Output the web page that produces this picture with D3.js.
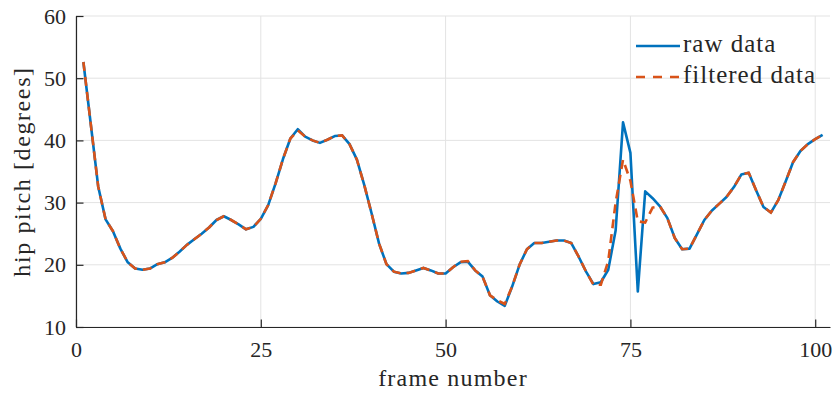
<!DOCTYPE html>
<html>
<head>
<meta charset="utf-8">
<script src="https://cdn.jsdelivr.net/npm/d3@7"></script>
<style>
  body { margin: 0; background: #fff; }
  text { font-family: "Liberation Serif", "DejaVu Serif", serif; fill: #262626; }
</style>
</head>
<body>
<div id="chart"></div>
<script>
var rawData = [52.6, 42.6, 32.6, 27.3, 25.4, 22.6, 20.4, 19.4, 19.2, 19.4,
  20.1, 20.4, 21.1, 22.1, 23.2, 24.1, 25.0, 26.0, 27.2, 27.8,
  27.2, 26.5, 25.7, 26.1, 27.4, 29.6, 33.1, 37.0, 40.3, 41.8,
  40.6, 40.0, 39.6, 40.1, 40.7, 40.8, 39.4, 36.9, 32.8, 28.2,
  23.4, 20.1, 18.9, 18.6, 18.7, 19.1, 19.5, 19.1, 18.6, 18.6,
  19.6, 20.4, 20.5, 19.1, 18.1, 15.1, 14.1, 13.4, 16.5, 20.0,
  22.5, 23.5, 23.5, 23.7, 23.9, 23.9, 23.5, 21.3, 18.9, 16.9,
  17.2, 19.2, 25.5, 42.9, 38.0, 15.7, 31.8, 30.7, 29.4, 27.5,
  24.3, 22.5, 22.6, 24.9, 27.2, 28.7, 29.8, 30.9, 32.5, 34.5,
  34.8, 32.0, 29.3, 28.4, 30.4, 33.4, 36.5, 38.3, 39.4, 40.2,
  40.9];
var filteredData = [52.6, 42.6, 32.6, 27.3, 25.4, 22.6, 20.4, 19.4, 19.2, 19.4,
  20.1, 20.4, 21.1, 22.1, 23.2, 24.1, 25.0, 26.0, 27.2, 27.8,
  27.2, 26.5, 25.7, 26.1, 27.4, 29.6, 33.1, 37.0, 40.3, 41.6,
  40.6, 40.0, 39.6, 40.1, 40.7, 40.8, 39.4, 36.9, 32.8, 28.2,
  23.4, 20.1, 18.9, 18.6, 18.7, 19.1, 19.5, 19.1, 18.6, 18.6,
  19.6, 20.5, 20.6, 19.1, 18.1, 15.1, 14.3, 13.7, 16.5, 20.0,
  22.5, 23.5, 23.5, 23.7, 23.9, 23.9, 23.5, 21.3, 18.9, 16.8,
  16.8, 20.6, 30.0, 36.9, 33.5, 27.0, 26.8, 29.2, 29.4, 27.5,
  24.3, 22.5, 22.6, 24.9, 27.2, 28.7, 29.8, 30.9, 32.5, 34.5,
  34.8, 32.0, 29.3, 28.4, 30.4, 33.4, 36.5, 38.3, 39.4, 40.2,
  40.9];
var xTicks = [0, 25, 50, 75, 100];
var yTicks = [10, 20, 30, 40, 50, 60];
var seriesNames = ['raw data', 'filtered data'];

var width = 835, height = 394;
var margin = {top: 16, right: 5, bottom: 67, left: 76};
var axisColor = '#262626', gridColor = '#e3e3e3';
var colors = ['#0072BD', '#D95319'];

var svg = d3.select('#chart').append('svg').attr('width', width).attr('height', height);
var x = d3.scaleLinear().domain([0, 102]).range([margin.left, width - margin.right]);
var y = d3.scaleLinear().domain([10, 60]).range([height - margin.bottom, margin.top]);

// grid
svg.append('g').selectAll('line').data(xTicks).enter().append('line')
  .attr('x1', function(d) { return x(d); }).attr('x2', function(d) { return x(d); })
  .attr('y1', y(10)).attr('y2', y(60)).attr('stroke', gridColor).attr('stroke-width', 1);
svg.append('g').selectAll('line').data(yTicks).enter().append('line')
  .attr('x1', x(0)).attr('x2', x(102))
  .attr('y1', function(d) { return y(d); }).attr('y2', function(d) { return y(d); })
  .attr('stroke', gridColor).attr('stroke-width', 1);

// axes
var xAxis = svg.append('g').attr('transform', 'translate(0,' + y(10) + ')')
  .call(d3.axisBottom(x).tickValues(xTicks).tickSizeInner(-7.5).tickSizeOuter(0).tickPadding(14));
var yAxis = svg.append('g').attr('transform', 'translate(' + x(0) + ',0)')
  .call(d3.axisLeft(y).tickValues(yTicks).tickSizeInner(-7.5).tickSizeOuter(0).tickPadding(10));
[xAxis, yAxis].forEach(function(a) {
  a.select('.domain').attr('stroke', axisColor).attr('stroke-width', 1.2);
  a.selectAll('.tick line').attr('stroke', axisColor).attr('stroke-width', 1.2);
  a.selectAll('.tick text').attr('font-size', 22).attr('font-family', '"Liberation Serif", serif').attr('fill', axisColor);
});

// lines
var line = d3.line().x(function(d, i) { return x(i + 1); }).y(function(d) { return y(d); });
svg.append('path').datum(rawData).attr('d', line).attr('fill', 'none')
  .attr('stroke', colors[0]).attr('stroke-width', 2.6).attr('stroke-linejoin', 'round');
svg.append('path').datum(filteredData).attr('d', line).attr('fill', 'none')
  .attr('stroke', colors[1]).attr('stroke-width', 2.6).attr('stroke-dasharray', '9,6');

// labels
svg.append('text').attr('x', (x(0) + x(102)) / 2).attr('y', 386).attr('text-anchor', 'middle')
  .attr('font-size', 24).attr('letter-spacing', 1.2).text('frame number');
svg.append('text').attr('transform', 'translate(30,' + (y(10) + y(60)) / 2 + ') rotate(-90)')
  .attr('text-anchor', 'middle').attr('font-size', 24).attr('letter-spacing', 1.6).text('hip pitch [degrees]');

// legend
var legend = svg.append('g').attr('transform', 'translate(636,46)');
seriesNames.forEach(function(name, i) {
  var row = legend.append('g').attr('transform', 'translate(0,' + (i * 31) + ')');
  row.append('line').attr('x1', 0).attr('x2', 44).attr('y1', 0).attr('y2', 0)
    .attr('stroke', colors[i]).attr('stroke-width', 2.6)
    .attr('stroke-dasharray', i == 1 ? '9,8' : null);
  row.append('text').attr('x', 47).attr('y', 6).attr('font-size', 25).attr('letter-spacing', 1)
    .text(name);
});
</script>
</body>
</html>
